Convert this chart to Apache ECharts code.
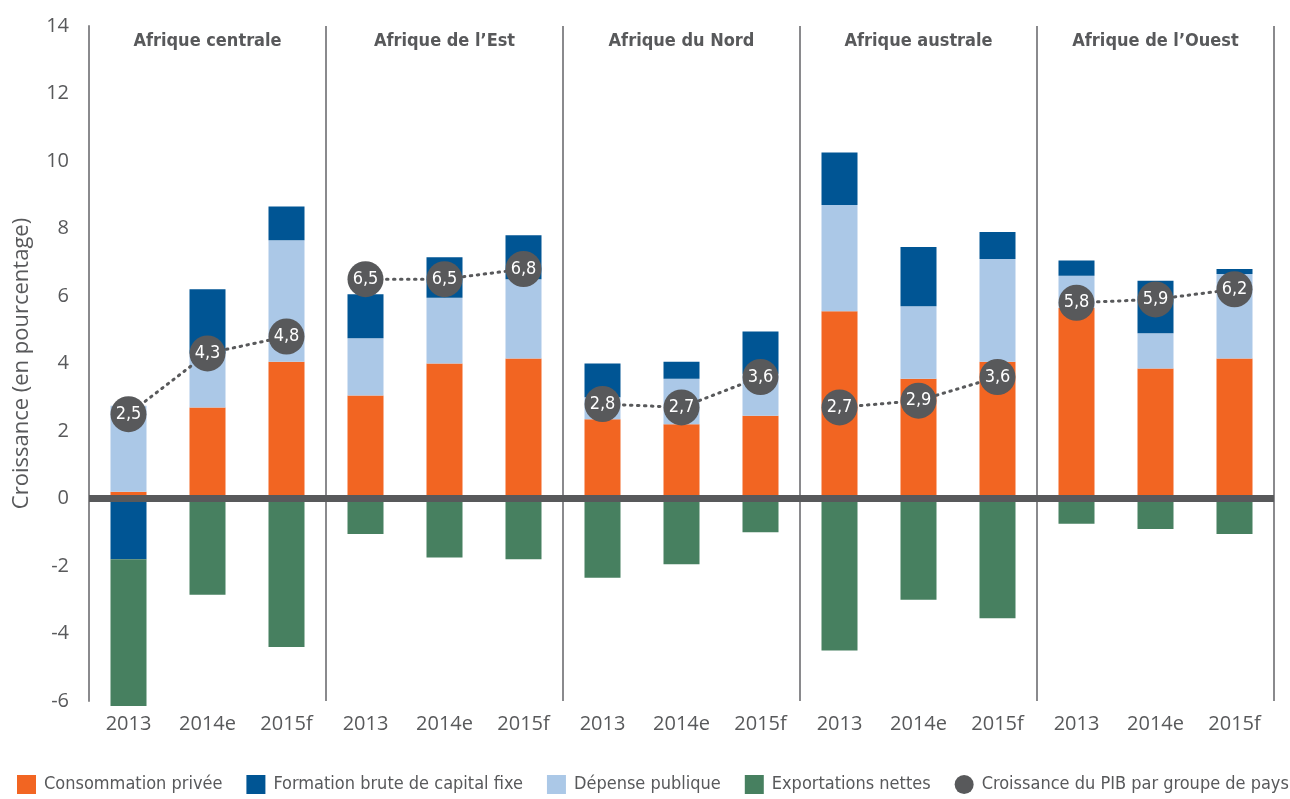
<!DOCTYPE html>
<html>
<head>
<meta charset="utf-8">
<script src="https://cdn.jsdelivr.net/npm/echarts@6/dist/echarts.min.js"></script>
<style>
html, body { margin: 0; padding: 0; background: #fff; }
#chart { width: 1290px; height: 799px; }
</style>
</head>
<body>
<div id="chart"></div>
<script>
// regions and years
var regions = ['Afrique centrale', 'Afrique de l\u2019Est', 'Afrique du Nord', 'Afrique australe', 'Afrique de l\u2019Ouest'];
var years = ['2013', '2014e', '2015f'];
var yTicks = { min: -6, max: 14, step: 2 };

// contributions (points de pourcentage), 3 years x 5 regions
var consommation = [0.2, 2.7, 4.05, 3.05, 4.0, 4.15, 2.35, 2.2, 2.45, 5.55, 3.55, 4.05, 5.65, 3.85, 4.15];
var depense = [2.55, 1.6, 3.6, 1.7, 1.95, 2.35, 0.65, 1.35, 1.25, 3.15, 2.15, 3.05, 0.95, 1.05, 2.5];
var formation = [-1.8, 1.9, 1.0, 1.3, 1.2, 1.3, 1.0, 0.5, 1.25, 1.55, 1.75, 0.8, 0.45, 1.55, 0.15];
var exportations = [-4.35, -2.85, -4.4, -1.05, -1.75, -1.8, -2.35, -1.95, -1.0, -4.5, -3.0, -3.55, -0.75, -0.9, -1.05];
// croissance du PIB
var croissance = [2.5, 4.3, 4.8, 6.5, 6.5, 6.8, 2.8, 2.7, 3.6, 2.7, 2.9, 3.6, 5.8, 5.9, 6.2];

var categories = [];
regions.forEach(function () {
    years.forEach(function (y) { categories.push(y); });
});

var grey = '#58595b';
var lineGrey = '#8a8a8d';
var narrow = '"Liberation Sans Narrow", "DejaVu Sans Condensed", "Roboto", sans-serif';
var normal = '"Open Sans", "Noto Sans", sans-serif';
var gdpName = 'Croissance du PIB par groupe de pays';

function barSerie(name, data, color) {
    return {
        name: name,
        type: 'bar',
        stack: 'pib',
        data: data,
        barWidth: 36,
        clip: false,
        itemStyle: { color: color }
    };
}

var series = [
    barSerie('Consommation privée', consommation, '#f26522'),
    barSerie('Dépense publique', depense, '#abc8e7'),
    barSerie('Formation brute de capital fixe', formation, '#005594'),
    barSerie('Exportations nettes', exportations, '#478060')
];
// ligne du zero
series[3].markLine = {
    silent: true,
    symbol: ['none', 'none'],
    label: { show: false },
    lineStyle: { color: grey, width: 7, type: 'solid' },
    data: [{ yAxis: 0 }]
};

// une ligne par groupe de pays (pas de lien entre groupes)
regions.forEach(function (r, g) {
    series.push({
        name: gdpName,
        type: 'line',
        data: croissance.map(function (v, i) { return Math.floor(i / 3) === g ? v : '-'; }),
        symbol: 'circle',
        symbolSize: 36,
        z: 10,
        itemStyle: { color: grey },
        lineStyle: { color: grey, width: 3, type: [1.5, 5.5], cap: 'round' },
        label: {
            show: true,
            position: 'inside',
            color: '#fff',
            fontSize: 18,
            fontFamily: narrow,
            formatter: function (p) { return String(p.value).replace('.', ','); }
        }
    });
});

var myChart = echarts.init(document.getElementById('chart'));
var option = {
    animation: false,
    grid: { left: 89, right: 16, top: 26, bottom: 98 },
    legend: {
        left: 17,
        top: 775,
        width: 1400,
        padding: 0,
        itemWidth: 19,
        itemHeight: 19,
        itemGap: 24,
        icon: 'rect',
        textStyle: { fontSize: 18, fontFamily: narrow, color: grey, padding: [0, 0, 0, 3] },
        data: [
            'Consommation privée',
            'Formation brute de capital fixe',
            'Dépense publique',
            'Exportations nettes',
            { name: gdpName, icon: 'circle' }
        ]
    },
    xAxis: [
        {
            type: 'category',
            data: categories,
            axisLine: { show: false, onZero: false },
            axisTick: { show: false },
            axisLabel: { interval: 0, fontSize: 20, fontFamily: normal, color: grey, margin: 13 },
            splitLine: { show: false }
        },
        {
            type: 'category',
            position: 'top',
            data: regions,
            axisLine: { show: false },
            axisTick: { show: false },
            axisLabel: { interval: 0, inside: true, margin: 6, fontSize: 18, fontWeight: 'bold', fontFamily: narrow, color: grey },
            splitLine: { show: true, interval: 0, lineStyle: { color: lineGrey, width: 2 } }
        }
    ],
    yAxis: {
        type: 'value',
        min: yTicks.min,
        max: yTicks.max,
        interval: yTicks.step,
        name: 'Croissance (en pourcentage)',
        nameLocation: 'middle',
        nameGap: 56,
        nameTextStyle: { fontSize: 22, fontFamily: normal, color: grey },
        axisLine: { show: true, lineStyle: { color: lineGrey, width: 2 } },
        axisTick: { show: false },
        splitLine: { show: false },
        axisLabel: { fontSize: 20, fontFamily: normal, color: grey, margin: 20 }
    },
    series: series
};
myChart.setOption(option);
</script>
</body>
</html>
